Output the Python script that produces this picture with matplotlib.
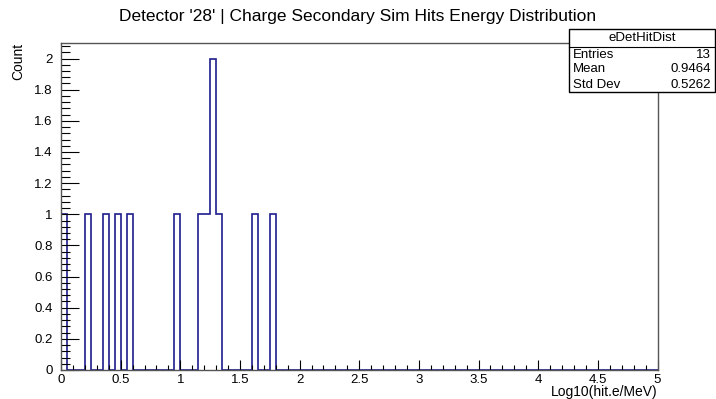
import numpy as np
import matplotlib
matplotlib.use("Agg")
import matplotlib.pyplot as plt
from matplotlib.ticker import MultipleLocator
from matplotlib.patches import Rectangle

plt.rcParams['font.family'] = ['Liberation Sans', 'DejaVu Sans']

# histogram: 100 bins on [0, 5], only filled bins listed (low edge -> count)
bin_width = 0.05
bin_lows = [0.00, 0.20, 0.35, 0.45, 0.55, 0.95, 1.15, 1.20, 1.25, 1.30, 1.60, 1.75]
bin_counts = [1, 1, 1, 1, 1, 1, 1, 1, 2, 1, 1, 1]

hist_name = "eDetHitDist"
stats_labels = ["Entries", "Mean", "Std Dev"]
stats_values = ["13", "0.9464", "0.5262"]

title = "Detector '28' | Charge Secondary Sim Hits Energy Distribution"
xlabel = "Log10(hit.e/MeV)"
ylabel = "Count"

edges = np.round(np.arange(0, 5 + bin_width / 2, bin_width), 4)
counts = np.zeros(len(edges) - 1)
for lo, c in zip(bin_lows, bin_counts):
    counts[int(round(lo / bin_width))] = c

fig = plt.figure(figsize=(7.16, 3.99), dpi=100)
ax = fig.add_axes([61 / 716, 29 / 399, 596.5 / 716, 327 / 399])

line_col = '#1e1e8c'
ax.stairs(counts, edges, color=line_col, linewidth=1.2, baseline=0)

ax.set_xlim(0, 5)
ax.set_ylim(0, 2.1)
ax.xaxis.set_major_locator(MultipleLocator(0.5))
ax.xaxis.set_minor_locator(MultipleLocator(0.1))
ax.yaxis.set_major_locator(MultipleLocator(0.2))
ax.yaxis.set_minor_locator(MultipleLocator(0.04))
ax.xaxis.set_major_formatter(lambda v, p: f"{v:g}")
ax.yaxis.set_major_formatter(lambda v, p: f"{v:g}")

ax.tick_params(axis='both', which='both', direction='in', top=False, right=False,
               colors='black', labelsize=9.5, width=0.8)
ax.tick_params(axis='y', which='major', length=13, pad=6)
ax.tick_params(axis='y', which='minor', length=6.5)
ax.tick_params(axis='x', which='major', length=7, pad=3)
ax.tick_params(axis='x', which='minor', length=3.5)
for s in ax.spines.values():
    s.set_color('#555555')
    s.set_linewidth(1.0)

fig.text(358 / 716, 1 - 17 / 399, title, ha='center', va='center', fontsize=12.5)
ax.set_xlabel(xlabel, fontsize=10, ha='right', labelpad=-2)
ax.xaxis.set_label_coords(1.0, -0.045)
ax.set_ylabel(ylabel, fontsize=10, ha='right')
ax.yaxis.set_label_coords(-0.06, 1.0)

# stats box
bx0, bx1 = 569 / 716, 715 / 716
by_top, by_bot = 1 - 29 / 399, 1 - 92 / 399
sep = 1 - 47 / 399
fig.patches.append(Rectangle((bx0, by_bot), bx1 - bx0, by_top - by_bot,
                             transform=fig.transFigure, facecolor='white',
                             edgecolor='black', linewidth=1.0, zorder=5))
fig.add_artist(plt.Line2D([bx0, bx1], [sep, sep], transform=fig.transFigure,
                          color='black', linewidth=0.8, zorder=6))
fig.text((bx0 + bx1) / 2, (by_top + sep) / 2, hist_name, ha='center', va='center',
         fontsize=9.5, zorder=7)
row_h = (sep - by_bot) / len(stats_labels)
for i, (lab, val) in enumerate(zip(stats_labels, stats_values)):
    yy = sep - row_h * (i + 0.5)
    fig.text(bx0 + 4 / 716, yy, lab, ha='left', va='center', fontsize=9.5, zorder=7)
    fig.text(bx1 - 4 / 716, yy, val, ha='right', va='center', fontsize=9.5, zorder=7)

fig.savefig("out.png", dpi=100, facecolor='white')
